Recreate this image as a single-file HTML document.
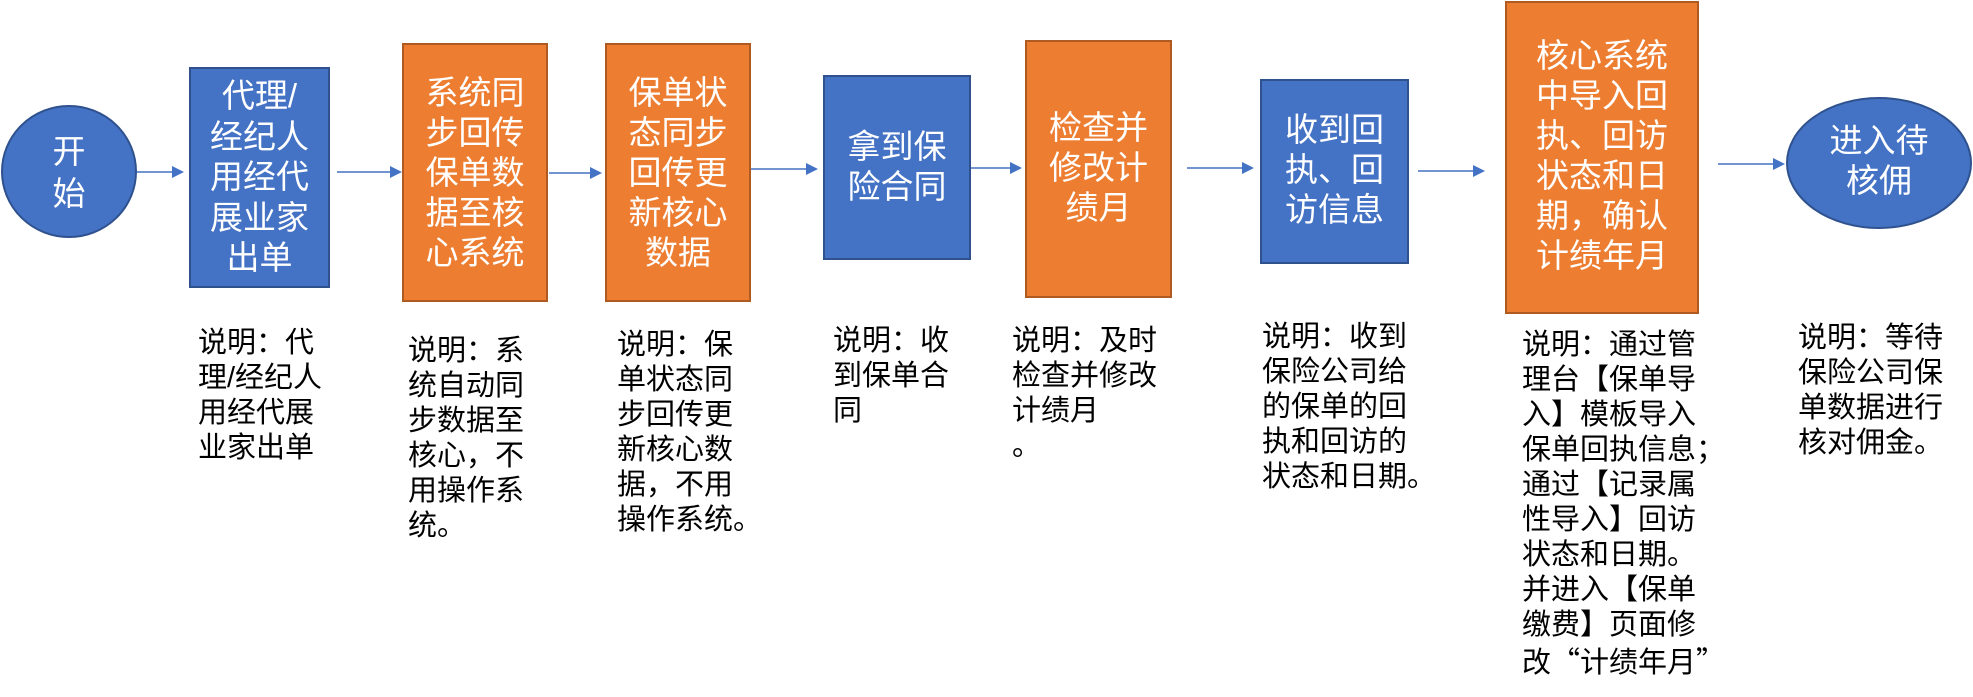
<!DOCTYPE html>
<html>
<head>
<meta charset="utf-8">
<style>
  html,body{margin:0;padding:0;background:#fff;}
  body{width:1973px;height:697px;position:relative;overflow:hidden;
       font-family:"Liberation Sans","Noto Sans CJK SC",sans-serif;}
  svg{position:absolute;left:0;top:0;}
  .t{position:absolute;color:#fff;text-align:center;font-size:33px;line-height:40px;white-space:nowrap;}
  .d{position:absolute;color:#000;text-align:left;font-size:29px;line-height:35px;white-space:nowrap;}
  .cj{font-family:"Noto Sans CJK SC",sans-serif;}
</style>
</head>
<body>
<svg width="1973" height="697" viewBox="0 0 1973 697">
  <!-- start circle -->
  <ellipse cx="69" cy="171.5" rx="67" ry="65.5" fill="#4472C4" stroke="#2F528F" stroke-width="2"/>
  <!-- end circle -->
  <ellipse cx="1879" cy="163" rx="92" ry="65" fill="#4472C4" stroke="#2F528F" stroke-width="2"/>

  <!-- boxes -->
  <rect x="190" y="68" width="139" height="219" fill="#4472C4" stroke="#2F528F" stroke-width="2"/>
  <rect x="403" y="44" width="144" height="257" fill="#ED7D31" stroke="#AE5A21" stroke-width="2"/>
  <rect x="606" y="44" width="144" height="257" fill="#ED7D31" stroke="#AE5A21" stroke-width="2"/>
  <rect x="824" y="76" width="146" height="183" fill="#4472C4" stroke="#2F528F" stroke-width="2"/>
  <rect x="1026" y="41" width="145" height="256" fill="#ED7D31" stroke="#AE5A21" stroke-width="2"/>
  <rect x="1261" y="80" width="147" height="183" fill="#4472C4" stroke="#2F528F" stroke-width="2"/>
  <rect x="1506" y="2" width="192" height="311" fill="#ED7D31" stroke="#AE5A21" stroke-width="2"/>

  <!-- arrows -->
  <g stroke="#4472C4" stroke-width="1.6" fill="none">
    <line x1="137" y1="172" x2="174" y2="172"/>
    <line x1="337" y1="172" x2="392" y2="172"/>
    <line x1="549" y1="173" x2="592" y2="173"/>
    <line x1="751" y1="169" x2="808" y2="169"/>
    <line x1="971" y1="168" x2="1012" y2="168"/>
    <line x1="1187" y1="168" x2="1244" y2="168"/>
    <line x1="1418" y1="171" x2="1475" y2="171"/>
    <line x1="1718" y1="164" x2="1775" y2="164"/>
  </g>
  <g fill="#4472C4">
    <polygon points="172,166 184,172 172,178"/>
    <polygon points="390,166 402,172 390,178"/>
    <polygon points="590,167 602,173 590,179"/>
    <polygon points="806,163 818,169 806,175"/>
    <polygon points="1010,162 1022,168 1010,174"/>
    <polygon points="1242,162 1254,168 1242,174"/>
    <polygon points="1473,165 1485,171 1473,177"/>
    <polygon points="1773,158 1785,164 1773,170"/>
  </g>
</svg>

<!-- shape texts -->
<div class="t" style="left:19px;width:100px;top:131px;line-height:42px;">开<br>始</div>
<div class="t" style="left:189px;width:141px;top:76px;line-height:40.5px;">代理/<br>经纪人<br>用经代<br>展业家<br>出单</div>
<div class="t" style="left:402px;width:146px;top:73px;">系统同<br>步回传<br>保单数<br>据至核<br>心系统</div>
<div class="t" style="left:605px;width:146px;top:73px;">保单状<br>态同步<br>回传更<br>新核心<br>数据</div>
<div class="t" style="left:823px;width:148px;top:127px;">拿到保<br>险合同</div>
<div class="t" style="left:1025px;width:147px;top:108px;">检查并<br>修改计<br>绩月</div>
<div class="t" style="left:1260px;width:149px;top:110px;">收到回<br>执、回<br>访信息</div>
<div class="t" style="left:1505px;width:194px;top:36px;">核心系统<br>中导入回<br>执、回访<br>状态和日<br>期，确认<br>计绩年月</div>
<div class="t" style="left:1786px;width:186px;top:121px;">进入待<br>核佣</div>

<!-- descriptions -->
<div class="d" style="left:198px;top:326px;">说明：代<br>理/经纪人<br>用经代展<br>业家出单</div>
<div class="d" style="left:408px;top:334px;">说明：系<br>统自动同<br>步数据至<br>核心，不<br>用操作系<br>统。</div>
<div class="d" style="left:617px;top:328px;">说明：保<br>单状态同<br>步回传更<br>新核心数<br>据，不用<br>操作系统。</div>
<div class="d" style="left:833px;top:324px;">说明：收<br>到保单合<br>同</div>
<div class="d" style="left:1012px;top:324px;">说明：及时<br>检查并修改<br>计绩月<br>。</div>
<div class="d" style="left:1262px;top:320px;">说明：收到<br>保险公司给<br>的保单的回<br>执和回访的<br>状态和日期。</div>
<div class="d" style="left:1522px;top:328px;">说明：通过管<br>理台【保单导<br>入】模板导入<br>保单回执信息；<br>通过【记录属<br>性导入】回访<br>状态和日期。<br>并进入【保单<br>缴费】页面修<br>改<span class="cj">“</span>计绩年月<span class="cj">”</span></div>
<div class="d" style="left:1798px;top:321px;">说明：等待<br>保险公司保<br>单数据进行<br>核对佣金。</div>
</body>
</html>
